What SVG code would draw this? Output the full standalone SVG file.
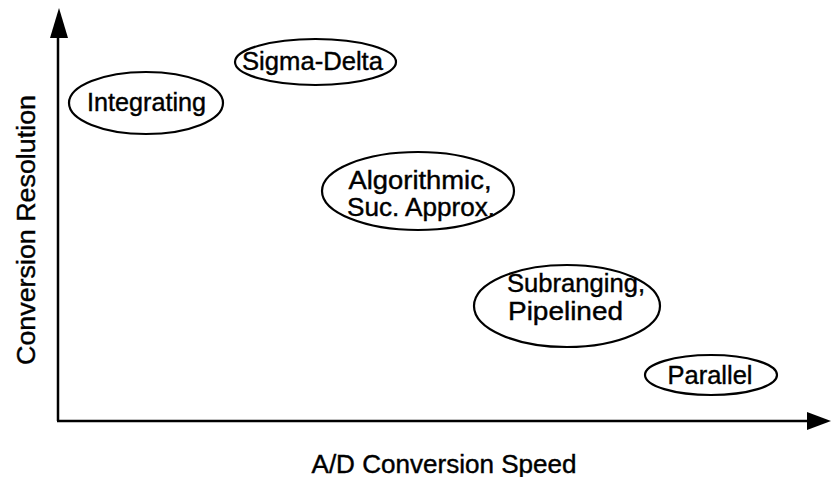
<svg xmlns="http://www.w3.org/2000/svg" width="831" height="477" viewBox="0 0 831 477">
  <style>
    .node ellipse { fill: #ffffff; stroke: #000000; stroke-width: 2.2; }
    .label { font-family: "Liberation Sans", Arial, Helvetica, sans-serif; font-size: 25px; fill: #000000; stroke: #000000; stroke-width: 0.4; text-anchor: middle; }
    .axis { stroke: #000000; stroke-width: 2.5; fill: none; }
    .head { fill: #000000; stroke: none; }
  </style>
  <rect width="831" height="477" fill="#ffffff"/>

  <!-- axes -->
  <g id="connectors">
    <line class="axis" x1="58" y1="421" x2="58" y2="34"/>
    <polygon class="head" points="59,8 50,38 68,38"/>
    <line class="axis" x1="57" y1="421" x2="810" y2="421"/>
    <polygon class="head" points="831,421 807,412 807,430"/>
  </g>

  <!-- axis titles -->
  <text class="label" x="444" y="473" textLength="265" lengthAdjust="spacingAndGlyphs">A/D Conversion Speed</text>
  <text class="label" transform="translate(35,230) rotate(-90)" x="0" y="0" textLength="270" lengthAdjust="spacingAndGlyphs">Conversion Resolution</text>

  <!-- converter families -->
  <g id="integrating" class="node">
    <ellipse cx="146" cy="103" rx="77" ry="31"/>
    <text class="label" x="146.5" y="111" textLength="119" lengthAdjust="spacingAndGlyphs">Integrating</text>
  </g>
  <g id="sigma-delta" class="node">
    <ellipse cx="315.5" cy="62" rx="80.5" ry="23"/>
    <text class="label" x="312.5" y="70" textLength="141" lengthAdjust="spacingAndGlyphs">Sigma-Delta</text>
  </g>
  <g id="algorithmic" class="node">
    <ellipse cx="418" cy="191" rx="96" ry="39"/>
    <text class="label" x="420" y="189" textLength="143" lengthAdjust="spacingAndGlyphs">Algorithmic,</text>
    <text class="label" x="421" y="216" textLength="148" lengthAdjust="spacingAndGlyphs">Suc. Approx.</text>
  </g>
  <g id="subranging" class="node">
    <ellipse cx="567" cy="306" rx="93" ry="41"/>
    <text class="label" x="576" y="292" textLength="138" lengthAdjust="spacingAndGlyphs">Subranging,</text>
    <text class="label" x="565.5" y="320" textLength="115" lengthAdjust="spacingAndGlyphs">Pipelined</text>
  </g>
  <g id="parallel" class="node">
    <ellipse cx="711" cy="375" rx="66" ry="20"/>
    <text class="label" x="710" y="384" textLength="85" lengthAdjust="spacingAndGlyphs">Parallel</text>
  </g>
</svg>
